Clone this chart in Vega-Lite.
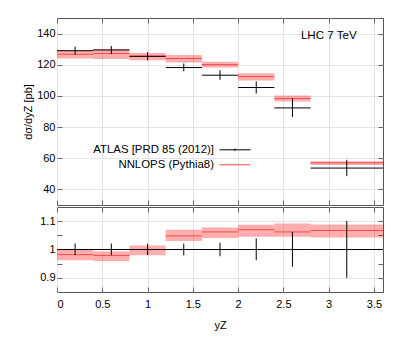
{
  "$schema": "https://vega.github.io/schema/vega-lite/v6.json",
  "padding": {"left": 22, "top": 17, "right": 0, "bottom": 0},
  "config": {
    "font": "Liberation Sans",
    "view": {"stroke": "#555", "strokeWidth": 1},
    "axis": {
      "domain": false, "tickSize": -5, "tickColor": "#666", "gridColor": "#e3e3e3",
      "labelFontSize": 11, "labelColor": "#000", "labelFont": "Liberation Sans",
      "titleFontSize": 11, "titleColor": "#000", "titleFontWeight": "normal", "titleFont": "Liberation Sans"
    },
    "legend": {
      "orient": "none", "title": null, "padding": 0, "symbolSize": 961, "symbolStrokeWidth": 1,
      "rowPadding": 0, "labelAlign": "right", "labelOffset": -37,
      "labelFontSize": 11.4, "labelFont": "Liberation Sans", "labelColor": "#000", "labelLimit": 300
    }
  },
  "data": {"values": [
    {"lo": 0.0, "hi": 0.4, "c": 0.2, "d": 129.0, "dlo": 126.5, "dhi": 131.6, "t": 126.7, "tlo": 124.0, "thi": 129.5, "rt": 0.982, "rtlo": 0.962, "rthi": 1.001, "rdlo": 0.980, "rdhi": 1.021},
    {"lo": 0.4, "hi": 0.8, "c": 0.6, "d": 129.5, "dlo": 126.8, "dhi": 132.0, "t": 127.2, "tlo": 123.7, "thi": 130.1, "rt": 0.979, "rtlo": 0.959, "rthi": 0.993, "rdlo": 0.980, "rdhi": 1.021},
    {"lo": 0.8, "hi": 1.2, "c": 1.0, "d": 125.4, "dlo": 122.8, "dhi": 128.2, "t": 125.5, "tlo": 122.9, "thi": 127.6, "rt": 1.000, "rtlo": 0.980, "rthi": 1.014, "rdlo": 0.980, "rdhi": 1.021},
    {"lo": 1.2, "hi": 1.6, "c": 1.4, "d": 118.2, "dlo": 115.8, "dhi": 120.8, "t": 124.0, "tlo": 121.4, "thi": 126.3, "rt": 1.048, "rtlo": 1.030, "rthi": 1.070, "rdlo": 0.979, "rdhi": 1.021},
    {"lo": 1.6, "hi": 2.0, "c": 1.8, "d": 113.3, "dlo": 110.3, "dhi": 116.5, "t": 120.1, "tlo": 118.2, "thi": 122.0, "rt": 1.062, "rtlo": 1.041, "rthi": 1.078, "rdlo": 0.976, "rdhi": 1.024},
    {"lo": 2.0, "hi": 2.4, "c": 2.2, "d": 105.4, "dlo": 101.5, "dhi": 109.2, "t": 112.4, "tlo": 109.9, "thi": 114.5, "rt": 1.070, "rtlo": 1.045, "rthi": 1.087, "rdlo": 0.962, "rdhi": 1.039},
    {"lo": 2.4, "hi": 2.8, "c": 2.6, "d": 92.3, "dlo": 86.5, "dhi": 98.5, "t": 98.3, "tlo": 96.4, "thi": 100.3, "rt": 1.062, "rtlo": 1.045, "rthi": 1.092, "rdlo": 0.939, "rdhi": 1.062},
    {"lo": 2.8, "hi": 3.6, "c": 3.2, "d": 53.7, "dlo": 48.5, "dhi": 59.0, "t": 57.1, "tlo": 55.6, "thi": 58.1, "rt": 1.067, "rtlo": 1.042, "rthi": 1.088, "rdlo": 0.900, "rdhi": 1.101}
  ]},
  "spacing": 0,
  "resolve": {"legend": {"color": "independent", "stroke": "independent"}},
  "vconcat": [
    {
      "width": 326, "height": 187,
      "resolve": {"axis": {"x": "independent", "y": "independent"}},
      "layer": [
        {
          "mark": {"type": "rect", "color": "#ff0000", "opacity": 0.32},
          "encoding": {
            "x": {"field": "lo", "type": "quantitative", "scale": {"domain": [0, 3.6], "nice": false},
                  "axis": {"orient": "bottom", "values": [0, 0.5, 1, 1.5, 2, 2.5, 3, 3.5], "labels": false, "title": null, "grid": true}},
            "x2": {"field": "hi"},
            "y": {"field": "tlo", "type": "quantitative", "scale": {"domain": [30, 150], "nice": false, "zero": false},
                  "axis": {"orient": "left", "values": [40, 60, 80, 100, 120, 140], "grid": true, "title": "dσ/dyZ [pb]", "labelPadding": 7, "titlePadding": 3}},
            "y2": {"field": "thi"}
          }
        },
        {
          "mark": {"type": "rule", "strokeWidth": 1},
          "encoding": {
            "x": {"field": "lo", "type": "quantitative", "scale": {"domain": [0, 3.6], "nice": false}, "axis": null},
            "x2": {"field": "hi"},
            "y": {"field": "t", "type": "quantitative", "scale": {"domain": [30, 150], "nice": false, "zero": false}, "axis": null},
            "stroke": {"datum": "NNLOPS (Pythia8)", "type": "nominal",
              "scale": {"domain": ["NNLOPS (Pythia8)"], "range": ["#f24a4a"]},
              "legend": {"legendX": 162, "legendY": 130.8, "symbolType": "stroke"}
            }
          }
        },
        {
          "mark": {"type": "rule", "strokeWidth": 1},
          "encoding": {
            "x": {"field": "lo", "type": "quantitative", "scale": {"domain": [0, 3.6], "nice": false}, "axis": null},
            "x2": {"field": "hi"},
            "y": {"field": "d", "type": "quantitative", "scale": {"domain": [30, 150], "nice": false, "zero": false}, "axis": null},
            "color": {"datum": "ATLAS [PRD 85 (2012)]", "type": "nominal",
              "scale": {"domain": ["ATLAS [PRD 85 (2012)]"], "range": ["#000000"]},
              "legend": {"legendX": 162, "legendY": 115.8, "symbolType": "M-1,0H1M0,-0.08V0.08"}
            }
          }
        },
        {
          "mark": {"type": "rule", "strokeWidth": 1, "color": "#000"},
          "encoding": {
            "x": {"field": "c", "type": "quantitative", "scale": {"domain": [0, 3.6], "nice": false},
                  "axis": {"orient": "top", "values": [0, 0.5, 1, 1.5, 2, 2.5, 3, 3.5], "labels": false, "title": null, "grid": false}},
            "y": {"field": "dlo", "type": "quantitative", "scale": {"domain": [30, 150], "nice": false, "zero": false},
                  "axis": {"orient": "right", "values": [40, 60, 80, 100, 120, 140], "labels": false, "title": null, "grid": false}},
            "y2": {"field": "dhi"}
          }
        },
        {
          "data": {"values": [{"note": "LHC 7 TeV"}]},
          "mark": {"type": "text", "align": "right", "baseline": "middle", "fontSize": 11.6, "font": "Liberation Sans", "color": "#000"},
          "encoding": {
            "text": {"field": "note"},
            "x": {"datum": 3.31, "type": "quantitative", "scale": {"domain": [0, 3.6], "nice": false}, "axis": null},
            "y": {"datum": 138.7, "type": "quantitative", "scale": {"domain": [30, 150], "nice": false, "zero": false}, "axis": null}
          }
        }
      ]
    },
    {
      "width": 326, "height": 85,
      "resolve": {"axis": {"x": "independent", "y": "independent"}},
      "layer": [
        {
          "mark": {"type": "rect", "color": "#ff0000", "opacity": 0.32},
          "encoding": {
            "x": {"field": "lo", "type": "quantitative", "scale": {"domain": [0, 3.6], "nice": false},
                  "axis": {"orient": "bottom", "values": [0, 0.5, 1, 1.5, 2, 2.5, 3, 3.5], "format": "~g", "title": "yZ", "grid": true, "labelPadding": 11, "titlePadding": 10}},
            "x2": {"field": "hi"},
            "y": {"field": "rtlo", "type": "quantitative", "scale": {"domain": [0.85, 1.15], "nice": false, "zero": false},
                  "axis": {"orient": "left", "values": [0.9, 0.95, 1, 1.05, 1.1], "title": null, "labelPadding": 7,
                           "labelExpr": "round(datum.value*20) % 2 == 1 ? '' : (round(datum.value*10) == 10 ? '1' : format(datum.value, '.1f'))",
                           "grid": true, "gridOpacity": {"condition": {"test": "round(datum.value*20) % 2 == 1", "value": 0}, "value": 1}}},
            "y2": {"field": "rthi"}
          }
        },
        {
          "mark": {"type": "rule", "strokeWidth": 1, "color": "#f24a4a"},
          "encoding": {
            "x": {"field": "lo", "type": "quantitative", "scale": {"domain": [0, 3.6], "nice": false}, "axis": null},
            "x2": {"field": "hi"},
            "y": {"field": "rt", "type": "quantitative", "scale": {"domain": [0.85, 1.15], "nice": false, "zero": false}, "axis": null}
          }
        },
        {
          "mark": {"type": "rule", "strokeWidth": 1, "color": "#000"},
          "encoding": {
            "x": {"field": "lo", "type": "quantitative", "scale": {"domain": [0, 3.6], "nice": false}, "axis": null},
            "x2": {"field": "hi"},
            "y": {"datum": 1, "type": "quantitative", "scale": {"domain": [0.85, 1.15], "nice": false, "zero": false}, "axis": null}
          }
        },
        {
          "mark": {"type": "rule", "strokeWidth": 1, "color": "#000"},
          "encoding": {
            "x": {"field": "c", "type": "quantitative", "scale": {"domain": [0, 3.6], "nice": false},
                  "axis": {"orient": "top", "values": [0, 0.5, 1, 1.5, 2, 2.5, 3, 3.5], "labels": false, "title": null, "grid": false}},
            "y": {"field": "rdlo", "type": "quantitative", "scale": {"domain": [0.85, 1.15], "nice": false, "zero": false},
                  "axis": {"orient": "right", "values": [0.9, 0.95, 1, 1.05, 1.1], "labels": false, "title": null, "grid": false}},
            "y2": {"field": "rdhi"}
          }
        }
      ]
    }
  ]
}
